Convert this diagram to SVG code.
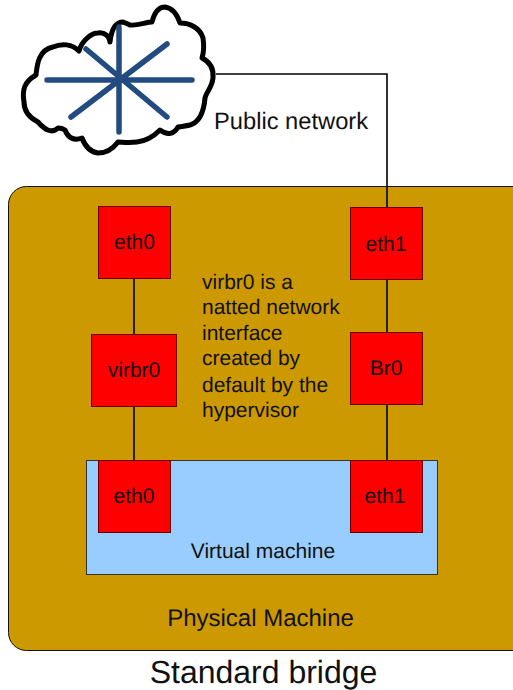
<svg xmlns="http://www.w3.org/2000/svg" width="513" height="690" viewBox="0 0 513 690">
<style>
text{font-family:"Liberation Sans",Arial,sans-serif;fill:#111;text-rendering:geometricPrecision}
.box{fill:#f00;stroke:#600;stroke-width:1}
.lbl{font-size:21px;text-anchor:middle}
.wire{fill:none;stroke:#000;stroke-width:1.6}
.spoke{stroke:#224b80;stroke-width:5.500;stroke-linecap:round}
</style>
<rect width="513" height="690" fill="#fff"/>
<g id="physical-machine"><rect x="8.500" y="186.500" width="530" height="464" rx="18" fill="#cc9900" stroke="#111" stroke-width="1"/>
<text x="260.500" y="626" text-anchor="middle" style="font-size:24px">Physical Machine</text></g>
<g id="virtual-machine"><rect x="86.500" y="460.500" width="351" height="114" fill="#99ccff" stroke="#333" stroke-width="1"/>
<text x="263" y="558" class="lbl">Virtual machine</text></g>
<g id="connectors">
<path class="wire" d="M216 74H387V208"/>
<path class="wire" d="M134 278V334M134 406V460M387 280V332M387 404V460"/>
</g>
<g id="cloud"><path d="M36 75C37 66 38 50 53 47C62 43 72 44 79 51C82 40 92 33 98 33C105 32 110 37 110 42C111 33 114 22 123 22C128 24 130 25 130 25C138 26 146 22 152 22C154 14 158 7 165 7C172 8 177 14 180 23C190 23 200 28 203 38C204 45 204 52 202 58C210 62 214 68 213 78C212 88 206 92 205 98C204 110 200 122 190 125C185 126 180 127 178 127C174 134 168 136 160 130C154 136 146 141 137 142C128 143 122 142 118 142C112 150 105 153 98 153C90 152 85 146 82 138C74 141 68 138 65 130C62 128 60 128 58 128C52 134 45 130 38 122C30 118 24 112 24 102C22 90 24 82 36 75Z" fill="#fff" stroke="#000" stroke-width="5" stroke-linejoin="round"/>
<path class="spoke" d="M119 27V132M47 80H192M86 49L167 117M167 44L71 117"/></g>
<text id="public-network" x="214" y="129" style="font-size:23.700px">Public network</text>
<g id="eth0-host"><rect class="box" x="98.500" y="206.500" width="72" height="72"/><text class="lbl" x="134.500" y="249">eth0</text></g>
<g id="virbr0"><rect class="box" x="91.500" y="334.500" width="85" height="72"/><text class="lbl" x="134" y="377">virbr0</text></g>
<g id="eth0-vm"><rect class="box" x="98.500" y="460.500" width="72" height="72"/><text class="lbl" x="134" y="503">eth0</text></g>
<g id="eth1-host"><rect class="box" x="350.500" y="207.500" width="72" height="72"/><text class="lbl" x="386" y="251">eth1</text></g>
<g id="br0"><rect class="box" x="350.500" y="332.500" width="72" height="72"/><text class="lbl" x="386" y="375">Br0</text></g>
<g id="eth1-vm"><rect class="box" x="350.500" y="460.500" width="72" height="72"/><text class="lbl" x="385" y="503">eth1</text></g>
<g id="note" style="font-size:21px"><text x="202" y="289">virbr0 is a</text><text x="202" y="314">natted network</text><text x="202" y="340">interface</text><text x="202" y="365">created by</text><text x="202" y="392">default by the</text><text x="202" y="417">hypervisor</text></g>
<text id="title" x="263.500" y="683" text-anchor="middle" style="font-size:32px">Standard bridge</text>
</svg>
